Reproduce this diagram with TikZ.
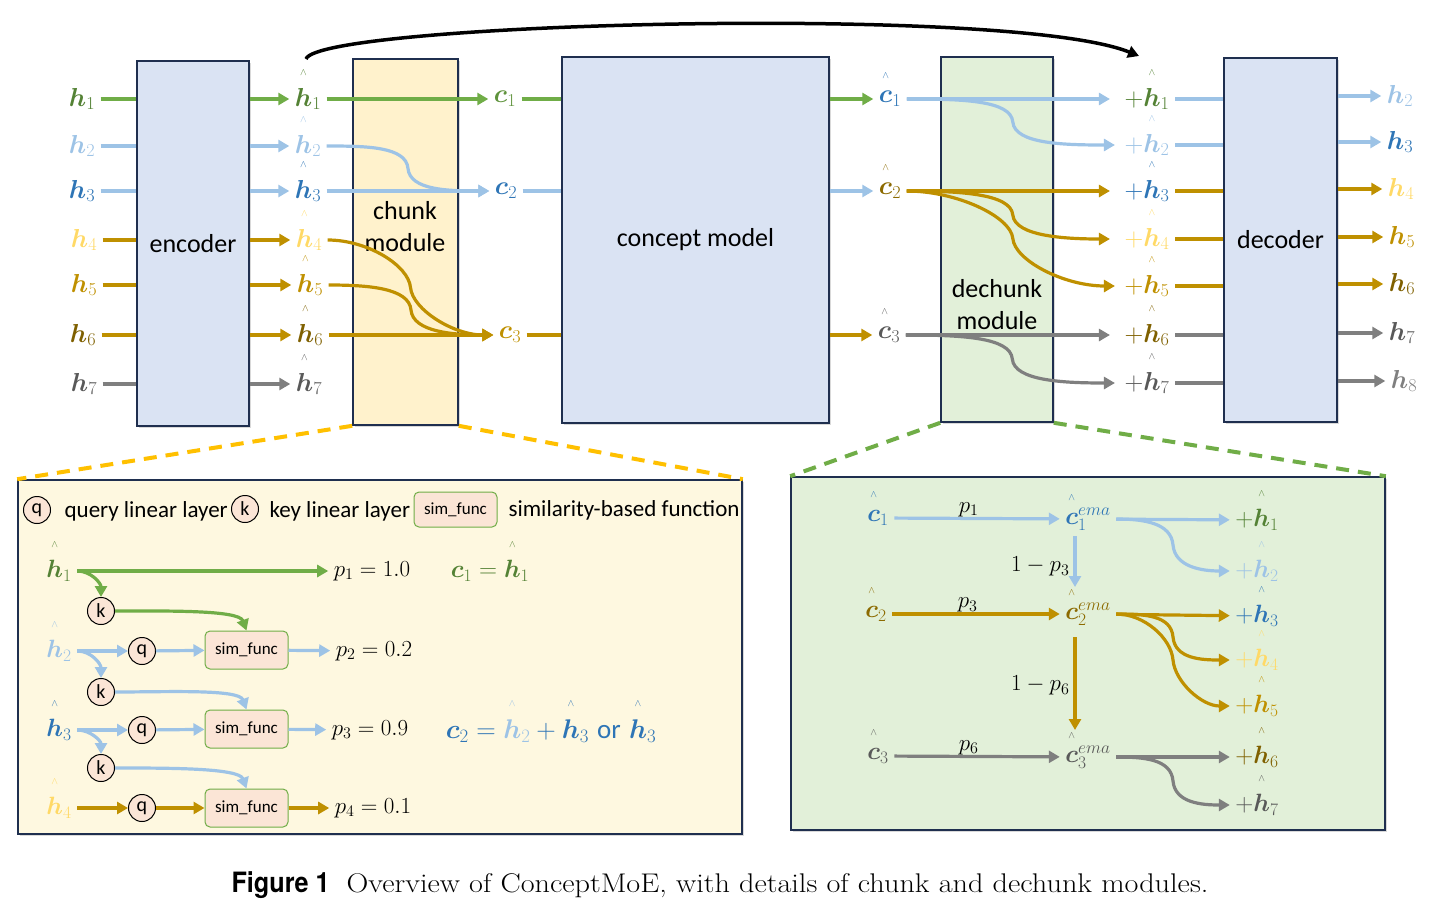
\RequirePackage{fix-cm}
\documentclass[tikz,border=0pt]{standalone}
\usepackage{amsmath}
\usepackage{graphicx}
\usepackage{fontspec}
\newfontfamily\carl{Carlito}
\newfontfamily\heros{TeX Gyre Heros}
\usetikzlibrary{arrows.meta,calc,shadows}

\definecolor{cgreen}{HTML}{70AD47}
\definecolor{cdgreen}{HTML}{548235}
\definecolor{clblue}{HTML}{9DC3E6}
\definecolor{cblue}{HTML}{2E75B6}
\definecolor{cyel}{HTML}{FFD966}
\definecolor{cgold}{HTML}{BF9000}
\definecolor{colive}{HTML}{7F6000}
\definecolor{cbrown}{HTML}{8C6A00}
\definecolor{cdgray}{HTML}{595959}
\definecolor{cgray}{HTML}{7F7F7F}
\definecolor{cnavy}{HTML}{1F2F4F}
\definecolor{encfill}{HTML}{DAE3F3}
\definecolor{chkfill}{HTML}{FFF2CC}
\definecolor{dchfill}{HTML}{E2F0D9}
\definecolor{panfill}{HTML}{FEF8E0}
\definecolor{cpink}{HTML}{FBE5D6}
\definecolor{cyellow}{HTML}{FFC000}

\newcommand{\hv}[1]{{\smash{\overset{\raisebox{8pt}{\fontsize{10}{10}\selectfont$\wedge$}}{#1}}\vphantom{#1}}}
\newcommand{\boldh}[1]{\boldsymbol{h}_{#1}}
\newcommand{\hath}[1]{\hv{\boldsymbol{h}}_{#1}}
\newcommand{\hatc}[1]{\hv{\boldsymbol{c}}_{#1}}
\newcommand{\hatce}[1]{\hv{\boldsymbol{c}}^{ema}_{#1}}

\begin{document}
\begin{tikzpicture}[x=1pt,y=-1pt,line width=3.2pt,
  ar/.style={-{Triangle[length=11pt,width=12pt]}},
  bendone/.style={out=0,in=95,out distance=#1,in distance=22pt},
  bendtwo/.style={out=-85,in=180,out distance=22pt,in distance=#1},
  box/.style={draw=cnavy,line width=1.6pt,inner sep=0pt,drop shadow={shadow xshift=2pt,shadow yshift=-2pt,opacity=.3}},
  boxtxt/.style={font=\carl\fontsize{26}{32}\selectfont,align=center},
  lab/.style={inner sep=4pt,font=\fontsize{26}{30}\selectfont},
  slab/.style={inner sep=4pt,font=\fontsize{25}{30}\selectfont},
  plab/.style={inner sep=4pt,text=black,font=\fontsize{23}{28}\selectfont},
  circ/.style={circle,draw=black,line width=1pt,fill=cpink,minimum size=27pt,inner sep=0pt,font=\carl\fontsize{20}{24}\selectfont},
  simbox/.style={draw=cgreen,line width=1pt,fill=cpink,rounded corners=5pt,minimum width=83pt,minimum height=38pt,inner sep=0pt,font=\carl\fontsize{17}{20}\selectfont},
  ltxt/.style={inner sep=0pt,anchor=west,font=\carl\fontsize{23}{28}\selectfont}]

\useasboundingbox (0,0) rectangle (1441,916);

% modules
\node[box,fill=encfill,minimum width=112pt,minimum height=365pt,boxtxt] (enc) at (193,243.5) {encoder};
\node[box,fill=chkfill,minimum width=105pt,minimum height=366pt] (chunk) at (405.5,242) {};
\node[boxtxt] (chunkt) at (405,227) {chunk\\module};
\node[box,fill=encfill,minimum width=267pt,minimum height=366pt,boxtxt] (cm) at (695.5,240) {concept model};
\node[box,fill=dchfill,minimum width=112pt,minimum height=365pt] (dchunk) at (997,239.5) {};
\node[boxtxt] (dchunkt) at (997,305) {dechunk\\module};
\node[box,fill=encfill,minimum width=113pt,minimum height=364pt,boxtxt] (dec) at (1280.5,240) {decoder};

% encoder
\node[lab,text=cdgreen] (i1) at (82,99) {$\boldh{1}$};
\node[lab,text=clblue] (i2) at (82,146) {$\boldh{2}$};
\node[lab,text=cblue] (i3) at (82,191) {$\boldh{3}$};
\node[lab,text=cyel] (i4) at (84,240) {$\boldh{4}$};
\node[lab,text=cgold] (i5) at (84,285) {$\boldh{5}$};
\node[lab,text=colive] (i6) at (83,335) {$\boldh{6}$};
\node[lab,text=cdgray] (i7) at (84,384) {$\boldh{7}$};
\node[lab,text=cdgreen] (e1) at (308,99) {$\hath{1}$};
\node[lab,text=clblue] (e2) at (308,146) {$\hath{2}$};
\node[lab,text=cblue] (e3) at (308,191) {$\hath{3}$};
\node[lab,text=cyel] (e4) at (309,240) {$\hath{4}$};
\node[lab,text=cgold] (e5) at (310,285) {$\hath{5}$};
\node[lab,text=colive] (e6) at (310,335) {$\hath{6}$};
\node[lab,text=cdgray] (e7) at (309,384) {$\hath{7}$};
\draw[cgreen] (i1) -- (i1 -| enc.west);
\draw[clblue] (i2) -- (i2 -| enc.west);
\draw[clblue] (i3) -- (i3 -| enc.west);
\draw[cgold] (i4) -- (i4 -| enc.west);
\draw[cgold] (i5) -- (i5 -| enc.west);
\draw[cgold] (i6) -- (i6 -| enc.west);
\draw[cgray] (i7) -- (i7 -| enc.west);
\draw[ar,cgreen] (e1 -| enc.east) -- (e1);
\draw[ar,clblue] (e2 -| enc.east) -- (e2);
\draw[ar,clblue] (e3 -| enc.east) -- (e3);
\draw[ar,cgold] (e4 -| enc.east) -- (e4);
\draw[ar,cgold] (e5 -| enc.east) -- (e5);
\draw[ar,cgold] (e6 -| enc.east) -- (e6);
\draw[ar,cgray] (e7 -| enc.east) -- (e7);

% chunk
\node[lab,text=cgreen!85!black] (c1) at (505,99) {$\boldsymbol{c}_1$};
\node[lab,text=cblue] (c2) at (506,191) {$\boldsymbol{c}_2$};
\node[lab,text=cgold] (c3) at (510,335) {$\boldsymbol{c}_3$};
\draw[ar,cgreen] (e1) -- (c1);
\draw[ar,clblue] (e2) to[bendone=40pt] ($(e2.east)!.5!(c2.west)$) to[bendtwo=40pt] (c2);
\draw[ar,clblue] (e3) -- (c2);
\draw[ar,cgold] (e4) to[bendone=40pt] ($(e4.east)!.5!(c3.west)$) to[bendtwo=40pt] (c3);
\draw[ar,cgold] (e5) to[bendone=40pt] ($(e5.east)!.5!(c3.west)$) to[bendtwo=40pt] (c3);
\draw[ar,cgold] (e6) -- (c3);
\draw[cgreen] (c1) -- (c1 -| cm.west);
\draw[clblue] (c2) -- (c2 -| cm.west);
\draw[cgold] (c3) -- (c3 -| cm.west);

% dechunk
\node[lab,text=cblue] (d1) at (890,99) {$\hatc{1}$};
\node[lab,text=cbrown] (d2) at (890,191) {$\hatc{2}$};
\node[lab,text=cdgray] (d3) at (889,335) {$\hatc{3}$};
\draw[ar,cgreen] (d1 -| cm.east) -- (d1);
\draw[ar,clblue] (d2 -| cm.east) -- (d2);
\draw[ar,cgold] (d3 -| cm.east) -- (d3);
\node[lab,text=cdgreen] (p1) at (1147,99) {$+\hath{1}$};
\node[lab,text=clblue] (p2) at (1147,145) {$+\hath{2}$};
\node[lab,text=cblue] (p3) at (1147,191) {$+\hath{3}$};
\node[lab,text=cyel] (p4) at (1147,239) {$+\hath{4}$};
\node[lab,text=cgold] (p5) at (1147,286) {$+\hath{5}$};
\node[lab,text=colive] (p6) at (1147,335) {$+\hath{6}$};
\node[lab,text=cdgray] (p7) at (1147,383) {$+\hath{7}$};
\draw[ar,clblue,shorten >=9pt] (d1) -- (p1);
\draw[ar,clblue,shorten >=4pt] (d1) to[bendone=55pt] ($(d1.east)!.5!(p2.west)$) to[bendtwo=55pt] (p2);
\draw[ar,cgold,shorten >=9pt] (d2) -- (p3);
\draw[ar,cgold,shorten >=9pt] (d2) to[bendone=50pt] ($(d2.east)!.5!(p4.west)$) to[bendtwo=50pt] (p4);
\draw[ar,cgold,shorten >=4pt] (d2) to[bendone=50pt] ($(d2.east)!.5!(p5.west)$) to[bendtwo=55pt] (p5);
\draw[ar,cgray,shorten >=9pt] (d3) -- (p6);
\draw[ar,cgray,shorten >=4pt] (d3) to[bendone=55pt] ($(d3.east)!.5!(p7.west)$) to[bendtwo=55pt] (p7);

% decoder
\draw[clblue] (p1) -- (p1 -| dec.west);
\draw[clblue] (p2) -- (p2 -| dec.west);
\draw[cgold] (p3) -- (p3 -| dec.west);
\draw[cgold] (p4) -- (p4 -| dec.west);
\draw[cgold] (p5) -- (p5 -| dec.west);
\draw[cgray] (p6) -- (p6 -| dec.west);
\draw[cgray] (p7) -- (p7 -| dec.west);
\node[lab,text=clblue] (o2) at (1400,96) {$\boldh{2}$};
\node[lab,text=cblue] (o3) at (1400,142) {$\boldh{3}$};
\node[lab,text=cyel] (o4) at (1401,189) {$\boldh{4}$};
\node[lab,text=cgold] (o5) at (1402,237) {$\boldh{5}$};
\node[lab,text=colive] (o6) at (1402,284) {$\boldh{6}$};
\node[lab,text=cdgray] (o7) at (1402,333) {$\boldh{7}$};
\node[lab,text=cgray] (o8) at (1404,381) {$\boldh{8}$};
\draw[ar,clblue] (o2 -| dec.east) -- (o2);
\draw[ar,clblue] (o3 -| dec.east) -- (o3);
\draw[ar,cgold] (o4 -| dec.east) -- (o4);
\draw[ar,cgold] (o5 -| dec.east) -- (o5);
\draw[ar,cgold] (o6 -| dec.east) -- (o6);
\draw[ar,cgray] (o7 -| dec.east) -- (o7);
\draw[ar,cgray] (o8 -| dec.east) -- (o8);

% skip connection
\coordinate (skipA) at (306,59);
\coordinate (skipB) at (1139,56);
\draw[ar,black,line width=3.5pt] (skipA) .. controls +(12,-36) and +(-129,-52) .. (skipB);

% detail panels
\node[box,fill=panfill,minimum width=724pt,minimum height=354pt] (panL) at (380,657) {};
\node[box,fill=dchfill,minimum width=594pt,minimum height=353pt] (panR) at (1088,653.5) {};
\draw[cyellow,line width=4pt,dash pattern=on 13pt off 9pt] (chunk.south west) -- (panL.north west);
\draw[cyellow,line width=4pt,dash pattern=on 13pt off 9pt] (chunk.south east) -- (panL.north east);
\draw[cgreen,line width=4pt,dash pattern=on 13pt off 9pt] (dchunk.south west) -- (panR.north west);
\draw[cgreen,line width=4pt,dash pattern=on 13pt off 9pt] (dchunk.south east) -- (panR.north east);

% chunk details
\node[circ] (lq) at (37,510) {q};
\node[ltxt] (lqt) at (63,511) {query linear layer};
\node[circ] (lk) at (245,509) {k};
\node[ltxt] (lkt) at (268,511) {key linear layer};
\node[simbox,minimum height=35pt] (ls) at (455.5,509.5) {sim\_func};
\node[ltxt] (lst) at (507,510) {similarity-based function};

\node[slab,text=cdgreen] (b1) at (59,571) {$\hath{1}$};
\node[slab,text=clblue] (b2) at (59,651) {$\hath{2}$};
\node[slab,text=cblue] (b3) at (59,730) {$\hath{3}$};
\node[slab,text=cyel] (b4) at (59,808) {$\hath{4}$};
\node[circ] (k1) at (101,611) {k};
\node[circ] (k2) at (101,692) {k};
\node[circ] (k3) at (101,768) {k};
\node[circ] (q2) at (142,651) {q};
\node[circ] (q3) at (142,730) {q};
\node[circ] (q4) at (142,808) {q};
\node[simbox] (s2) at (246.5,650) {sim\_func};
\node[simbox] (s3) at (246.5,729) {sim\_func};
\node[simbox] (s4) at (246.5,808) {sim\_func};
\node[plab] (r1) at (372,571) {$p_1 = 1.0$};
\node[plab] (r2) at (374,651) {$p_2 = 0.2$};
\node[plab] (r3) at (370,730) {$p_3 = 0.9$};
\node[plab] (r4) at (373,808) {$p_4 = 0.1$};
\node[slab,text=cdgreen] (eq1) at (490,571) {$\boldsymbol{c}_1 = \hath{1}$};
\node[lab,text=cblue,font=\fontsize{27}{30}\selectfont] (eq2) at (551,731) {$\boldsymbol{c}_2 = \textcolor{clblue}{\hath{2}} + \hath{3}$ {\carl or} $\hath{3}$};
\draw[ar,cgreen] (b1) -- (r1);
\draw[ar,cgreen] (b1.east) to[out=0,in=90] (k1);
\draw[ar,cgreen] (k1) to[out=0,in=110,in distance=22pt] (s2.north);
\draw[ar,clblue] (b2) -- (q2);
\draw[ar,clblue] (q2) -- (s2);
\draw[ar,clblue] (s2) -- (r2);
\draw[ar,clblue] (b2.east) to[out=0,in=90] (k2);
\draw[ar,clblue] (k2) to[out=0,in=110,in distance=22pt] (s3.north);
\draw[ar,clblue] (b3) -- (q3);
\draw[ar,clblue] (q3) -- (s3);
\draw[ar,clblue] (s3) -- (r3);
\draw[ar,clblue] (b3.east) to[out=0,in=90] (k3);
\draw[ar,clblue] (k3) to[out=0,in=110,in distance=22pt] (s4.north);
\draw[ar,cgold] (b4) -- (q4);
\draw[ar,cgold] (q4) -- (s4);
\draw[ar,cgold] (s4) -- (r4);

% dechunk details
\node[slab,text=cblue] (g1) at (878,518) {$\hatc{1}$};
\node[slab,text=cbrown] (g2) at (876,614) {$\hatc{2}$};
\node[slab,text=cdgray] (g3) at (878,756) {$\hatc{3}$};
\node[slab,text=cblue] (m1) at (1088,519) {$\hatce{1}$};
\node[slab,text=cbrown] (m2) at (1088,614) {$\hatce{2}$};
\node[slab,text=cdgray] (m3) at (1088,757) {$\hatce{3}$};
\node[slab,text=cdgreen] (f1) at (1257,520) {$+\hath{1}$};
\node[slab,text=clblue] (f2) at (1257,571) {$+\hath{2}$};
\node[slab,text=cblue] (f3) at (1257,616) {$+\hath{3}$};
\node[slab,text=cyel] (f4) at (1257,660) {$+\hath{4}$};
\node[slab,text=cgold] (f5) at (1257,706) {$+\hath{5}$};
\node[slab,text=colive] (f6) at (1257,757) {$+\hath{6}$};
\node[slab,text=cdgray] (f7) at (1257,805) {$+\hath{7}$};
\draw[ar,clblue] (g1) -- (m1) node[plab,pos=.45,above=-4pt] {$p_1$};
\draw[ar,cgold] (g2) -- (m2) node[plab,pos=.45,above=-4pt] {$p_3$};
\draw[ar,cgray] (g3) -- (m3) node[plab,pos=.45,above=-4pt] {$p_6$};
\draw[ar,clblue,shorten >=10pt] ([xshift=-13pt]m1.south) -- ([xshift=-13pt]m2.north) node[plab,midway,left] {$1-p_3$};
\draw[ar,cgold,shorten >=10pt,shorten <=6pt] ([xshift=-13pt]m2.south) -- ([xshift=-13pt]m3.north) node[plab,midway,left] {$1-p_6$};
\draw[ar,clblue] (m1) -- (f1);
\draw[ar,clblue] (m1) to[bendone=28pt] ($(m1.east)!.5!(f2.west)$) to[bendtwo=28pt] (f2);
\draw[ar,cgold] (m2) -- (f3);
\draw[ar,cgold] (m2) to[bendone=28pt] ($(m2.east)!.5!(f4.west)$) to[bendtwo=28pt] (f4);
\draw[ar,cgold] (m2) to[bendone=28pt] ($(m2.east)!.5!(f5.west)$) to[bendtwo=28pt] (f5);
\draw[ar,cgray] (m3) -- (f6);
\draw[ar,cgray] (m3) to[bendone=28pt] ($(m3.east)!.5!(f7.west)$) to[bendtwo=28pt] (f7);

% caption
\node (cap) at (720,885) {\scalebox{0.9}[1]{\heros\bfseries\fontsize{28}{32}\selectfont Figure 1}\hspace{17pt}\scalebox{1.12}[1]{\fontsize{27}{32}\selectfont Overview of ConceptMoE, with details of chunk and dechunk modules.}};

\end{tikzpicture}
\end{document}
